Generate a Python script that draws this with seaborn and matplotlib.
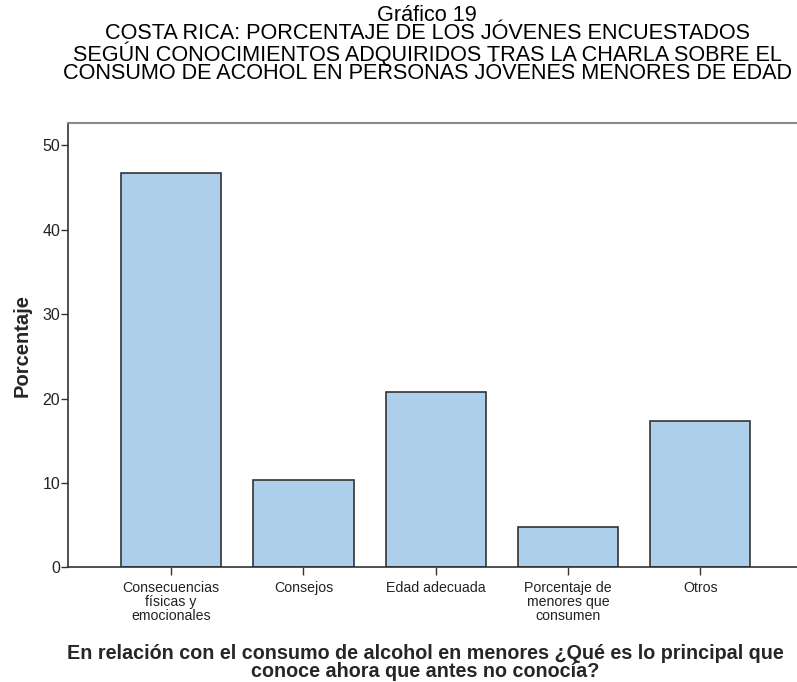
import matplotlib
matplotlib.use("Agg")
import matplotlib.pyplot as plt
import seaborn as sns

# datos
categorias = [
    "Consecuencias\nfísicas y\nemocionales",
    "Consejos",
    "Edad adecuada",
    "Porcentaje de\nmenores que\nconsumen",
    "Otros",
]
porcentajes = [46.7, 10.4, 20.8, 4.8, 17.3]
yticks = [0, 10, 20, 30, 40, 50]

titulo = ("Gráfico 19\n"
          "COSTA RICA: PORCENTAJE DE LOS JÓVENES ENCUESTADOS\n"
          "SEGÚN CONOCIMIENTOS ADQUIRIDOS TRAS LA CHARLA SOBRE EL\n"
          "CONSUMO DE ACOHOL EN PERSONAS JÓVENES MENORES DE EDAD")
xlabel = ("En relación con el consumo de alcohol en menores ¿Qué es lo principal que\n"
          "conoce ahora que antes no conocía?")

sns.set_style("white")
plt.rcParams['font.family'] = ['Liberation Sans', 'DejaVu Sans']

fig = plt.figure(figsize=(7.97, 6.82), dpi=100)
ax = fig.add_axes([0.0853, 0.168, 0.9147, 0.651])

sns.barplot(x=categorias, y=porcentajes, color="#aecfec", edgecolor="#333333",
            linewidth=1.2, width=0.756, saturation=1, ax=ax)

ax.set_xlim(-0.78, 4.73)
ax.set_ylim(0, 52.6)
ax.set_yticks(yticks)
ax.tick_params(axis='y', direction='out', length=5, width=1, color='#333333',
               labelsize=11.5, labelcolor='#222222', pad=0.5, left=True)
ax.tick_params(axis='x', direction='out', length=6, width=1, color='#333333',
               labelsize=10.2, labelcolor='#222222', pad=3.5, bottom=True)
for lab in ax.get_xticklabels():
    lab.set_linespacing(1.02)

for side in ['left', 'bottom']:
    ax.spines[side].set_color('#333333')
    ax.spines[side].set_linewidth(1.2)
ax.spines['top'].set_color('#888888')
ax.spines['top'].set_linewidth(1.5)
ax.spines['right'].set_visible(False)

ax.set_ylabel("Porcentaje", fontsize=14.5, fontweight='bold', labelpad=8)
ax.set_xlabel(xlabel, fontsize=14.2, fontweight='bold', labelpad=15, linespacing=0.92)
ax.xaxis.label.set_x(0.49)

fig.suptitle(titulo, x=0.536, y=0.993, fontsize=15.6, linespacing=0.84, va='top',
             color='black')

fig.savefig("out.png", dpi=100)
